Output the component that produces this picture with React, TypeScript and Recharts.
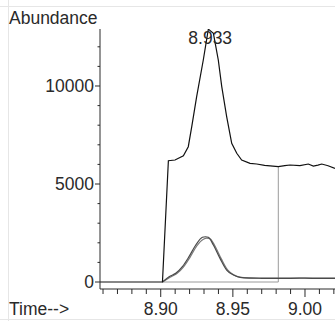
import { LineChart, Line, XAxis, YAxis, ReferenceDot } from 'recharts';

// total ion chromatogram
const ticTime = [
  8.8579, 8.9012, 8.9053, 8.9099, 8.9157, 8.9191, 8.9215, 8.9249, 8.9295, 8.933,
  8.9365, 8.9399, 8.9423, 8.9457, 8.9492, 8.9527, 8.9561, 8.9619, 8.9665, 8.9720,
  8.9815, 8.9860, 8.9896, 8.9965, 9.0023, 9.0058, 9.0090, 9.0116, 9.0160, 9.0208,
];
const ticAbundance = [
  0, 0, 6190, 6224, 6444, 6903, 7924, 9454, 11327, 12900,
  12689, 11327, 9965, 8434, 7076, 6566, 6224, 6056, 6020, 5950,
  5884, 5940, 5970, 5935, 6020, 5918, 5960, 6020, 5930, 5800,
];

// extracted ion chromatograms
const ionATime = [
  8.9012, 8.9058, 8.9104, 8.915, 8.9196, 8.9243, 8.9289, 8.931, 8.933, 8.9365,
  8.9411, 8.9457, 8.9504, 8.955, 8.962, 8.97, 8.98, 8.99, 9.0, 9.01, 9.0208,
];
const ionAAbundance = [
  0, 272, 442, 782, 1293, 1888, 2280, 2310, 2280, 1888,
  1207, 612, 357, 238, 200, 190, 185, 190, 195, 185, 190,
];
const ionBTime = [
  8.9012, 8.9065, 8.911, 8.9157, 8.9203, 8.925, 8.9296, 8.932, 8.934, 8.9375,
  8.942, 8.9465, 8.951, 8.9555, 8.962, 8.97, 8.98, 8.99, 9.0, 9.01, 9.0208,
];
const ionBAbundance = [
  0, 240, 420, 760, 1260, 1840, 2180, 2235, 2215, 1850,
  1180, 600, 350, 235, 210, 200, 195, 200, 205, 195, 200,
];

// integration marker
const markTime = [8.9012, 8.9815, 8.9815];
const markAbundance = [0, 0, 5884];

const xTicks = [
  8.86, 8.87, 8.88, 8.89, 8.9, 8.91, 8.92, 8.93, 8.94, 8.95, 8.96, 8.97, 8.98, 8.99, 9.0, 9.01, 9.02,
];
const xLabels: Record<string, string> = { '8.9': '8.90', '8.95': '8.95', '9': '9.00' };
const yTicks = [0, 1000, 2000, 3000, 4000, 5000, 6000, 7000, 8000, 9000, 10000, 11000, 12000];
const yLabels = [0, 5000, 10000];

const peakLabel = '8.933';

const toPoints = (ts: number[], vs: number[]) => ts.map((t, i) => ({ t, v: vs[i] }));
const tic = toPoints(ticTime, ticAbundance);
const ionA = toPoints(ionATime, ionAAbundance);
const ionB = toPoints(ionBTime, ionBAbundance);
const mark = toPoints(markTime, markAbundance);

const font = "'Liberation Sans', Arial, sans-serif";
const ink = '#2a2a2a';

const YTick = (props: any) => {
  const { x, y, payload } = props;
  const major = yLabels.includes(payload.value);
  return (
    <g>
      <line x1={x - (major ? 5 : 2.5)} x2={x} y1={y} y2={y} stroke={ink} strokeWidth={1} />
      {major && (
        <text x={x - 6} y={y} dy="0.36em" textAnchor="end" fontSize={17.5} fontFamily={font} fill={ink}>
          {payload.value}
        </text>
      )}
    </g>
  );
};

const XTick = (props: any) => {
  const { x, y, payload } = props;
  const label = xLabels[String(payload.value)];
  return (
    <g>
      <line x1={x} x2={x} y1={y} y2={y + (label ? 8 : 5)} stroke={ink} strokeWidth={1} />
      {label && (
        <text x={x} y={y + 25.5} textAnchor="middle" fontSize={17.5} fontFamily={font} fill={ink}>
          {label}
        </text>
      )}
    </g>
  );
};

export default function App() {
  return (
    <div style={{ position: 'absolute', left: 0, top: 0, width: 335, height: 321, background: '#fff' }}>
      <div style={{ position: 'absolute', left: 0, top: 6, width: 335, height: 1, background: '#e6e6e6' }} />
      <div style={{ position: 'absolute', left: 0, top: 319, width: 335, height: 1, background: '#e6e6e6' }} />
      <div style={{ position: 'absolute', left: 8, top: 0, width: 1, height: 321, background: '#e6e6e6' }} />
      <div
        style={{ position: 'absolute', left: 9, top: 8, fontFamily: font, fontSize: 17.5, color: ink, lineHeight: '20px' }}
      >
        Abundance
      </div>
      <div
        style={{ position: 'absolute', left: 9, top: 299, fontFamily: font, fontSize: 17.5, color: ink, lineHeight: '20px' }}
      >
        Time--&gt;
      </div>
      <LineChart width={335} height={321} margin={{ top: 29, right: 0, bottom: 0, left: 0 }} style={{ position: 'absolute', left: 0, top: 0 }}>
        <XAxis
          type="number"
          dataKey="t"
          domain={[8.8579, 9.0208]}
          allowDataOverflow
          ticks={xTicks}
          interval={0}
          height={32}
          tickSize={0}
          tickMargin={0}
          tickLine={false}
          tick={<XTick />}
          axisLine={{ stroke: ink }}
        />
        <YAxis
          type="number"
          dataKey="v"
          domain={[-357, 12908]}
          allowDataOverflow
          ticks={yTicks}
          interval={0}
          width={100}
          tickSize={0}
          tickMargin={0}
          tickLine={false}
          tick={<YTick />}
          axisLine={{ stroke: ink }}
        />
        <Line data={mark} dataKey="v" type="linear" stroke="#9a9a9a" strokeWidth={1} dot={false} isAnimationActive={false} />
        <Line data={ionB} dataKey="v" type="monotone" stroke="#7a7a7a" strokeWidth={1.2} dot={false} isAnimationActive={false} />
        <Line data={ionA} dataKey="v" type="monotone" stroke="#4a4a4a" strokeWidth={1.2} dot={false} isAnimationActive={false} />
        <Line data={tic} dataKey="v" type="linear" stroke="#111" strokeWidth={1.2} dot={false} isAnimationActive={false} />
        <ReferenceDot
          x={8.9343}
          y={12450}
          r={0}
          ifOverflow="visible"
          shape={(p: any) => (
            <text x={p.cx} y={p.cy} dy="0.36em" textAnchor="middle" fontSize={17.5} fontFamily={font} fill={ink}>
              {peakLabel}
            </text>
          )}
        />
      </LineChart>
    </div>
  );
}
